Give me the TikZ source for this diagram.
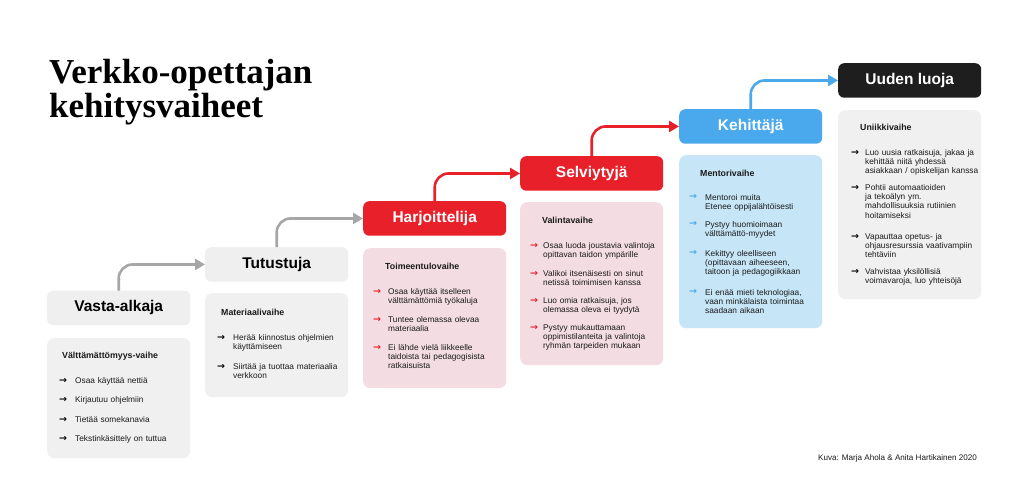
\documentclass[tikz,border=0pt]{standalone}
\usepackage{fontspec}
\usetikzlibrary{arrows.meta}
\setmainfont{Liberation Sans}
\newfontfamily\titlefont{Liberation Serif}
\newfontfamily\arrfont{DejaVu Sans}
\definecolor{hgray}{HTML}{EFEFEF}
\definecolor{bgray}{HTML}{F0F0F0}
\definecolor{hred}{HTML}{E8202A}
\definecolor{bpink}{HTML}{F3DDE3}
\definecolor{hblue}{HTML}{4AA8EC}
\definecolor{bblue}{HTML}{C6E6F7}
\definecolor{hblack}{HTML}{1E1E1E}
\definecolor{cgray}{HTML}{A6A6A6}
\definecolor{txt}{HTML}{1A1A1A}
\tikzset{
  hdr/.style={rounded corners=6pt, minimum width=143pt, minimum height=34.5pt, anchor=north west, inner sep=0pt, font=\bfseries\fontsize{15.5}{18}\selectfont},
  bodybox/.style={rounded corners=7pt, anchor=north west, inner sep=0pt, minimum width=143pt},
  subhd/.style={anchor=base west, inner sep=0pt, font=\bfseries\fontsize{8.8}{10}\selectfont, text=txt},
  itm/.style={anchor=base west, inner sep=0pt, text width=118pt, align=left, font=\fontsize{8.3}{9.4}\selectfont, text=txt},
  arr/.style={anchor=base west, inner sep=0pt, font=\arrfont\bfseries\fontsize{9.5}{10}\selectfont},
  conn/.style={line width=2.6pt, rounded corners=14pt, -{Triangle[length=10pt,width=11pt]}}
}
\begin{document}
\begin{tikzpicture}[x=1pt,y=-1pt]
\useasboundingbox[fill=white] (0,0) rectangle (1024,499);

% title
\node[anchor=base west, inner sep=0pt, align=left, font=\titlefont\bfseries\fontsize{35}{34}\selectfont, text=black] (title) at (49,117) {Verkko-opettajan\\kehitysvaiheet};

% headers
\node[hdr, fill=hgray, text=black] (h1) at (47,290.5) {Vasta-alkaja};
\node[hdr, fill=hgray, text=black] (h2) at (205,247) {Tutustuja};
\node[hdr, fill=hred, text=white] (h3) at (363,201) {Harjoittelija};
\node[hdr, fill=hred, text=white] (h4) at (520,156) {Selviytyjä};
\node[hdr, fill=hblue, text=white] (h5) at (679,109) {Kehittäjä};
\node[hdr, fill=hblack, text=white] (h6) at (838,63) {Uuden luoja};

% bodies
\node[bodybox, fill=bgray, minimum height=120pt] (b1) at (47,338) {};
\node[bodybox, fill=bgray, minimum height=104pt] (b2) at (205,293) {};
\node[bodybox, fill=bpink, minimum height=140pt] (b3) at (363,248) {};
\node[bodybox, fill=bpink, minimum height=163pt] (b4) at (520,202) {};
\node[bodybox, fill=bblue, minimum height=173pt] (b5) at (679,155) {};
\node[bodybox, fill=bgray, minimum height=189pt] (b6) at (838,110) {};

% connectors
\draw[conn, cgray] (h1.north) |- (h2.west);
\draw[conn, cgray] (h2.north) |- (h3.west);
\draw[conn, hred] (h3.north) |- (h4.west);
\draw[conn, hred] (h4.north) |- (h5.west);
\draw[conn, hblue] (h5.north) |- (h6.west);

% box 1
\node[subhd] (s1) at (62,358) {Välttämättömyys-vaihe};
\node[arr, text=black] (a11) at (59,383) {→};
\node[itm] (t11) at (75,383) {Osaa käyttää nettiä};
\node[arr, text=black] (a12) at (59,402.5) {→};
\node[itm] (t12) at (75,402.5) {Kirjautuu ohjelmiin};
\node[arr, text=black] (a13) at (59,422) {→};
\node[itm] (t13) at (75,422) {Tietää somekanavia};
\node[arr, text=black] (a14) at (59,441) {→};
\node[itm] (t14) at (75,441) {Tekstinkäsittely on tuttua};

% box 2
\node[subhd] (s2) at (221,315) {Materiaalivaihe};
\node[arr, text=black] (a21) at (217,340) {→};
\node[itm] (t21) at (233,340) {Herää kiinnostus ohjelmien\\käyttämiseen};
\node[arr, text=black] (a22) at (217,369) {→};
\node[itm] (t22) at (233,369) {Siirtää ja tuottaa materiaalia\\verkkoon};

% box 3
\node[subhd] (s3) at (385,269) {Toimeentulovaihe};
\node[arr, text=hred] (a31) at (373,294) {→};
\node[itm] (t31) at (388,294) {Osaa käyttää itselleen\\välttämättömiä työkaluja};
\node[arr, text=hred] (a32) at (373,322) {→};
\node[itm] (t32) at (388,322) {Tuntee olemassa olevaa\\materiaalia};
\node[arr, text=hred] (a33) at (373,350) {→};
\node[itm] (t33) at (388,350) {Ei lähde vielä liikkeelle\\taidoista tai pedagogisista\\ratkaisuista};

% box 4
\node[subhd] (s4) at (542,223) {Valintavaihe};
\node[arr, text=hred] (a41) at (530,248) {→};
\node[itm] (t41) at (543,248) {Osaa luoda joustavia valintoja\\opittavan taidon ympärille};
\node[arr, text=hred] (a42) at (530,276) {→};
\node[itm] (t42) at (543,276) {Valikoi itsenäisesti on sinut\\netissä toimimisen kanssa};
\node[arr, text=hred] (a43) at (530,303) {→};
\node[itm] (t43) at (543,303) {Luo omia ratkaisuja, jos\\olemassa oleva ei tyydytä};
\node[arr, text=hred] (a44) at (530,330) {→};
\node[itm] (t44) at (543,330) {Pystyy mukauttamaan\\oppimistilanteita ja valintoja\\ryhmän tarpeiden mukaan};

% box 5
\node[subhd] (s5) at (700,176) {Mentorivaihe};
\node[arr, text=hblue] (a51) at (689,199) {→};
\node[itm] (t51) at (705,200) {Mentoroi muita\\Etenee oppijalähtöisesti};
\node[arr, text=hblue] (a52) at (689,226) {→};
\node[itm] (t52) at (705,227) {Pystyy huomioimaan\\välttämättö-myydet};
\node[arr, text=hblue] (a53) at (689,255) {→};
\node[itm] (t53) at (705,256) {Kekittyy oleelliseen\\(opittavaan aiheeseen,\\taitoon ja pedagogiikkaan};
\node[arr, text=hblue] (a54) at (689,294) {→};
\node[itm] (t54) at (705,295) {Ei enää mieti teknologiaa,\\vaan minkälaista toimintaa\\saadaan aikaan};

% box 6
\node[subhd] (s6) at (860,130) {Uniikkivaihe};
\node[arr, text=black] (a61) at (851,155) {→};
\node[itm] (t61) at (865,155) {Luo uusia ratkaisuja, jakaa ja\\kehittää niitä yhdessä\\asiakkaan / opiskelijan kanssa};
\node[arr, text=black] (a62) at (851,190) {→};
\node[itm] (t62) at (865,190) {Pohtii automaatioiden\\ja tekoälyn ym.\\mahdollisuuksia rutiinien\\hoitamiseksi};
\node[arr, text=black] (a63) at (851,239) {→};
\node[itm] (t63) at (865,239) {Vapauttaa opetus- ja\\ohjausresurssia vaativampiin\\tehtäviin};
\node[arr, text=black] (a64) at (851,274) {→};
\node[itm] (t64) at (865,274) {Vahvistaa yksilöllisiä\\voimavaroja, luo yhteisöjä};

% credit
\node[anchor=base west, inner sep=0pt, font=\fontsize{8.1}{9}\selectfont, text=txt] (credit) at (818,460) {Kuva: Marja Ahola \& Anita Hartikainen 2020};
\end{tikzpicture}
\end{document}
